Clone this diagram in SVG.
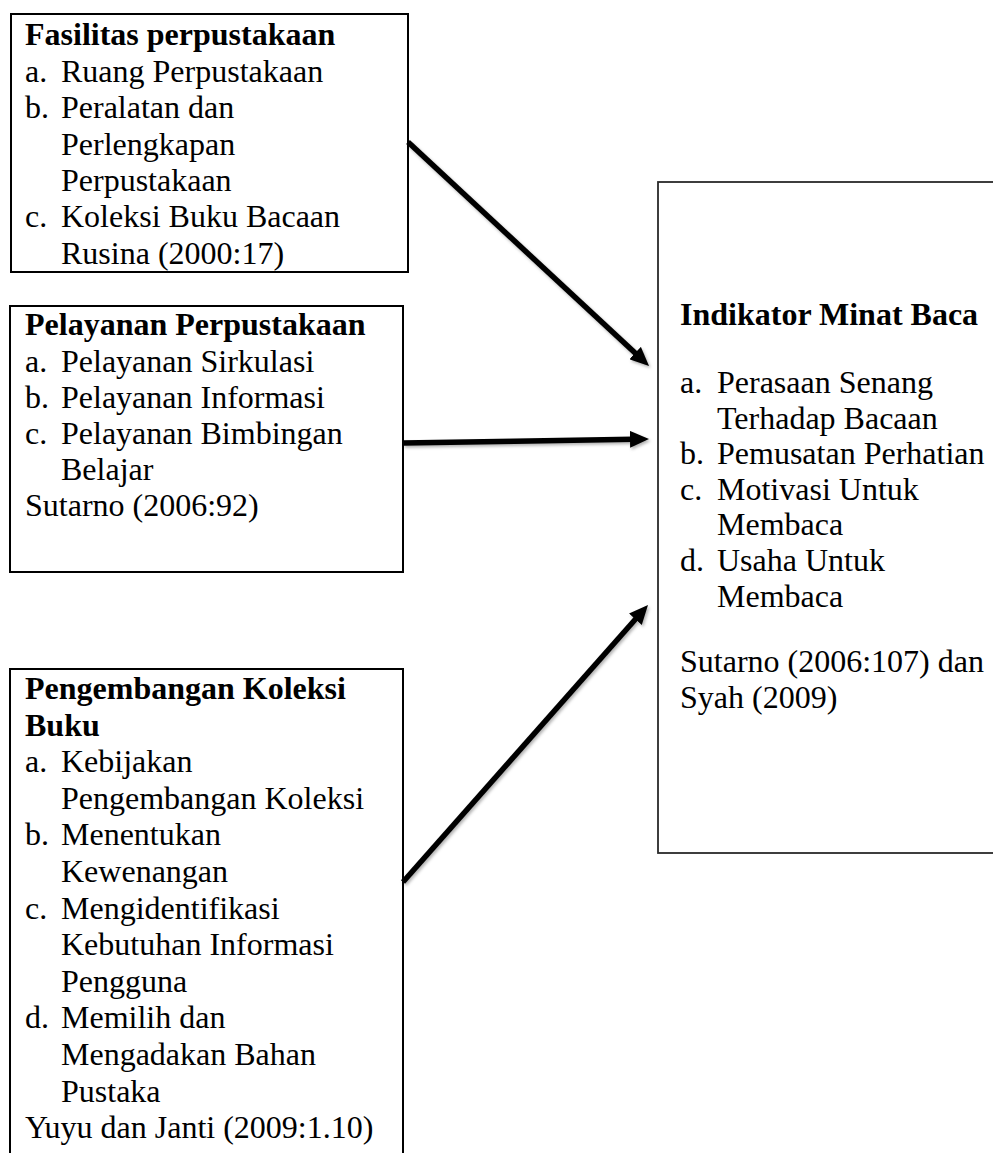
<svg xmlns="http://www.w3.org/2000/svg" width="993" height="1153" viewBox="0 0 993 1153">
<defs>
<style>
.box{fill:#fff;stroke:#000;stroke-width:2}
.box4{fill:#fff;stroke:#2a2a2a;stroke-width:1.8}
text{font-family:"Liberation Serif","Times New Roman",serif;font-size:32px;fill:#000}
.b{font-weight:bold}
.conn{stroke:#000;stroke-width:5.5;fill:none;marker-end:url(#ah)}
</style>
<marker id="ah" viewBox="0 0 19 17" refX="3" refY="8.5" markerWidth="19" markerHeight="17" markerUnits="userSpaceOnUse" orient="auto">
<path d="M0,0 L19,8.5 L0,17 z" fill="#000"/>
</marker>
<filter id="sh" x="-10%" y="-10%" width="120%" height="120%">
<feDropShadow dx="1.5" dy="2" stdDeviation="1.5" flood-color="#000" flood-opacity="0.3"/>
</filter>
</defs>
<rect width="993" height="1153" fill="#fff"/>

<g id="fasilitas">
<rect class="box" x="11" y="14" width="397" height="258"/>
<text class="b" x="25" y="45">Fasilitas perpustakaan</text>
<text x="25" y="81.5">a.</text><text x="61" y="81.5">Ruang Perpustakaan</text>
<text x="25" y="118">b.</text><text x="61" y="118">Peralatan dan</text>
<text x="61" y="154.5">Perlengkapan</text>
<text x="61" y="191">Perpustakaan</text>
<text x="25" y="227">c.</text><text x="61" y="227">Koleksi Buku Bacaan</text>
<text x="61" y="263.5">Rusina (2000:17)</text>
</g>

<g id="pelayanan">
<rect class="box" x="10" y="306" width="393" height="266"/>
<text class="b" x="25" y="335">Pelayanan Perpustakaan</text>
<text x="25" y="371.5">a.</text><text x="61" y="371.5">Pelayanan Sirkulasi</text>
<text x="25" y="407.5">b.</text><text x="61" y="407.5">Pelayanan Informasi</text>
<text x="25" y="444">c.</text><text x="61" y="444">Pelayanan Bimbingan</text>
<text x="61" y="480">Belajar</text>
<text x="25" y="516">Sutarno (2006:92)</text>
</g>

<g id="pengembangan">
<rect class="box" x="10" y="669" width="393" height="500"/>
<text class="b" x="25" y="699">Pengembangan Koleksi</text>
<text class="b" x="25" y="735.6">Buku</text>
<text x="25" y="772.2">a.</text><text x="61" y="772.2">Kebijakan</text>
<text x="61" y="808.8">Pengembangan Koleksi</text>
<text x="25" y="845.4">b.</text><text x="61" y="845.4">Menentukan</text>
<text x="61" y="882">Kewenangan</text>
<text x="25" y="918.6">c.</text><text x="61" y="918.6">Mengidentifikasi</text>
<text x="61" y="955.2">Kebutuhan Informasi</text>
<text x="61" y="991.8">Pengguna</text>
<text x="25" y="1028.4">d.</text><text x="61" y="1028.4">Memilih dan</text>
<text x="61" y="1065">Mengadakan Bahan</text>
<text x="61" y="1101.6">Pustaka</text>
<text x="25" y="1138.2">Yuyu dan Janti (2009:1.10)</text>
</g>

<g id="indikator">
<rect class="box4" x="658" y="182" width="400" height="671"/>
<text class="b" x="680" y="325">Indikator Minat Baca</text>
<text x="680" y="393">a.</text><text x="717" y="393">Perasaan Senang</text>
<text x="717" y="428.6">Terhadap Bacaan</text>
<text x="680" y="464.2">b.</text><text x="717" y="464.2">Pemusatan Perhatian</text>
<text x="680" y="499.8">c.</text><text x="717" y="499.8">Motivasi Untuk</text>
<text x="717" y="535.4">Membaca</text>
<text x="680" y="571">d.</text><text x="717" y="571">Usaha Untuk</text>
<text x="717" y="606.6">Membaca</text>
<text x="680" y="672">Sutarno (2006:107) dan</text>
<text x="680" y="707.6">Syah (2009)</text>
</g>

<g id="connectors" filter="url(#sh)">
<line class="conn" x1="408" y1="142" x2="637.3" y2="355.1"/>
<line class="conn" x1="403" y1="443" x2="633" y2="439.3"/>
<line class="conn" x1="403" y1="882" x2="637.4" y2="617"/>
</g>
</svg>
